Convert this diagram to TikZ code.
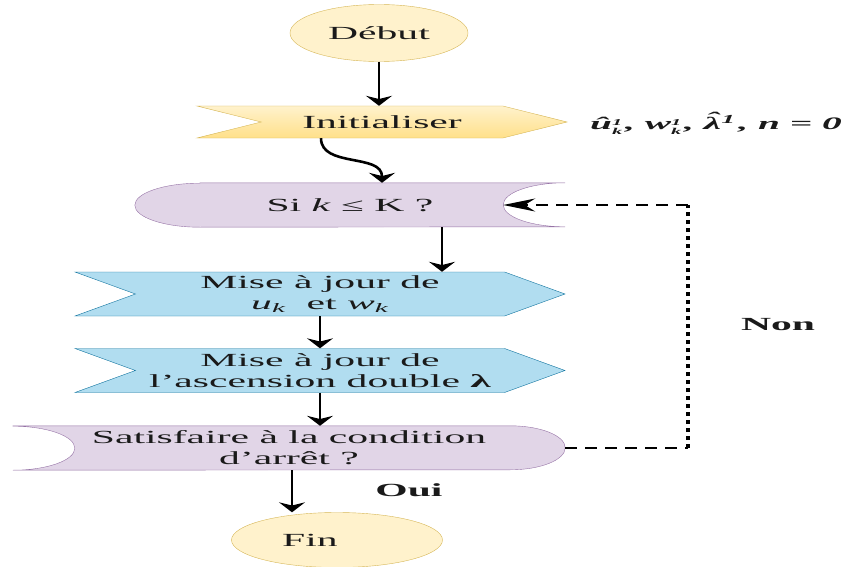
\documentclass[tikz,border=0pt]{standalone}
\usepackage{fontspec}
\setmainfont{Liberation Serif}[FakeStretch=2.25]
\usepackage{amsmath}
\usetikzlibrary{shapes.geometric,shapes.symbols,arrows.meta,backgrounds,positioning}

\definecolor{termfill}{HTML}{FFF2CC}
\definecolor{termline}{HTML}{D6B656}
\definecolor{inittop}{HTML}{FFF2CC}
\definecolor{initbot}{HTML}{FFE08A}
\definecolor{updfill}{HTML}{B1DDF0}
\definecolor{updline}{HTML}{10739E}
\definecolor{testfill}{HTML}{E1D5E7}
\definecolor{testline}{HTML}{9673A6}
\definecolor{txt}{HTML}{1A1A1A}

% index and exponent stacked on one letter
\newcommand{\supsub}[2]{\raisebox{-0.3em}{\fontsize{9}{8}\selectfont\shortstack[l]{#1\\#2}}}
% lambda with a hat
\newcommand{\hatlam}{\ooalign{λ\cr\hidewidth\raisebox{0.3em}{\char"02C6}\hidewidth\cr}}

\tikzset{
  term/.style={ellipse, draw=termline, fill=termfill, minimum width=178pt, minimum height=57pt, inner sep=0pt},
  initbox/.style={signal, signal from=west, signal to=east, signal pointer angle=28, draw=termline, top color=inittop, bottom color=initbot, minimum width=370pt, minimum height=32pt, inner sep=0pt},
  updbox/.style={signal, signal from=west, signal to=east, signal pointer angle=40, draw=updline, fill=updfill, minimum width=490pt, minimum height=44pt, inner sep=0pt, align=center},
  testbox/.style={minimum height=44pt, inner sep=0pt, align=center},
  testshape/.style={draw=testline, fill=testfill},
  arr/.style={line width=2.6pt, -{Stealth[length=10pt, width=26pt]}},
  loopline/.style={line width=1.8pt, dash pattern=on 12pt off 8pt},
  loopdots/.style={line width=4pt, dash pattern=on 4pt off 4pt},
  lbl/.style={font=\fontsize{18.5}{21}\selectfont\bfseries}
}

\begin{document}
\begin{tikzpicture}[x=1pt, y=-1pt, font=\fontsize{18.5}{21}\selectfont, text=txt]
\useasboundingbox (0,0) rectangle (848,567);

\node[term] (debut) at (379,33) {Début};
\node[initbox] (init) at (382,122) {Initialiser};
\node[font=\fontsize{17.5}{20}\selectfont\bfseries\itshape] (initval) at (716,125)
  {\^u\supsub{1}{k}\,, w\supsub{1}{k}\,, \hatlam\textsuperscript{1}\,, n = 0};
\node[testbox, minimum width=430pt] (si) at (350,205) {Si \textit{k} ≤ K ?};
\node[updbox] (maj1) at (320,294) {Mise à jour de\\ \textit{u}\textsubscript{\textit{k}}\ \ et \textit{w}\textsubscript{\textit{k}}};
\node[updbox] (maj2) at (320,370.5) {Mise à jour de\\ l'ascension double \textbf{λ}};
\node[testbox, minimum width=552pt] (sat) at (289,448) {Satisfaire à la condition\\ d'arrêt ?};
\node[term, minimum width=211pt, minimum height=55pt, label={[xshift=-27pt]center:Fin}] (fin) at (337,540) {};
\node[lbl] (non) at (778,325) {Non};
\node[lbl] (oui) at (409,490) {Oui};

% stored-data outlines behind the texts
\begin{scope}[on background layer]
\draw[testshape] ([xshift=65pt]si.north west) -- (si.north east)
  arc[start angle=90, end angle=270, x radius=62pt, y radius=22pt]
  -- ([xshift=65pt]si.south west)
  arc[start angle=270, end angle=90, x radius=65pt, y radius=22pt] -- cycle;
\draw[testshape] (sat.north west) -- ([xshift=-55pt]sat.north east)
  arc[start angle=90, end angle=-90, x radius=55pt, y radius=22pt]
  -- (sat.south west)
  arc[start angle=-90, end angle=90, x radius=62pt, y radius=22pt] -- cycle;
\end{scope}

\coordinate (sinotch) at ([xshift=-62pt]si.east);
\coordinate (loopbot) at (688,448);
\coordinate (looptop) at (688,205);

\draw[arr] (debut.south) -- (debut.south |- init.north);
\draw[arr] ([xshift=-61pt]init.south) to[out=-90, in=90] ([xshift=32pt]si.north);
\draw[arr] ([xshift=92pt]si.south) -- ([xshift=92pt]si.south |- maj1.north);
\draw[arr] (maj1.south) -- (maj2.north);
\draw[arr] (maj2.south) -- (maj2.south |- sat.north);
\draw[arr] ([xshift=3pt]sat.south) -- ([xshift=3pt]sat.south |- fin.north);

% loop back when the test fails
\draw[loopline] (sat.east) -- (loopbot);
\draw[loopdots] (loopbot) -- (looptop);
\draw[loopline, -{Stealth[length=32pt, width=13pt]}] (looptop) -- (sinotch);
\end{tikzpicture}
\end{document}
